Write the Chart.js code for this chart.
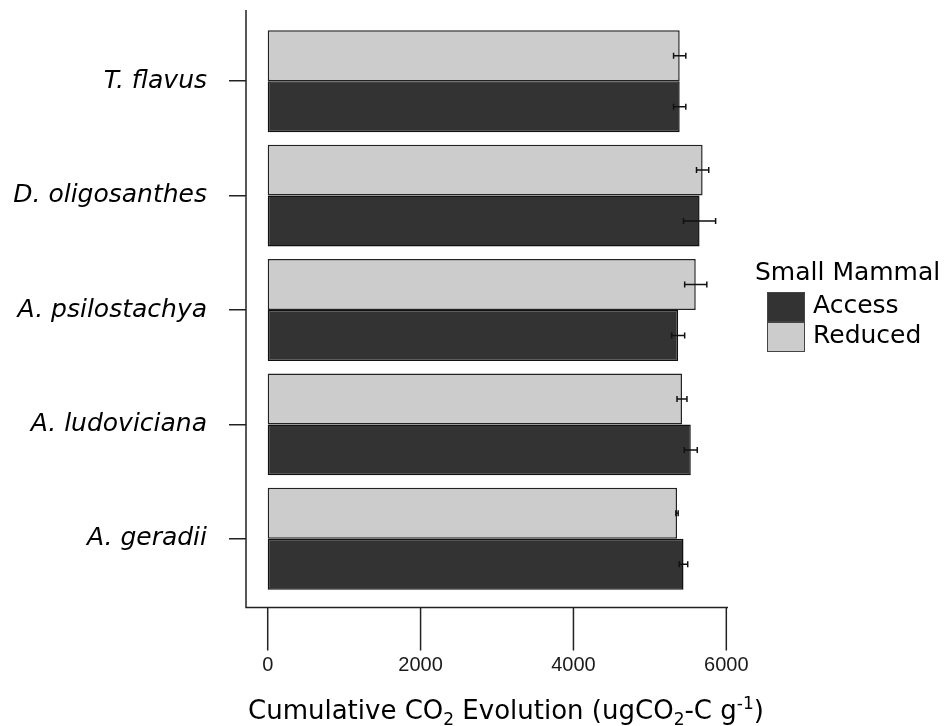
<!DOCTYPE html>
<html>
<head>
<meta charset="utf-8">
<script src="https://cdn.jsdelivr.net/npm/chart.js@4.4.1/dist/chart.umd.min.js"></script>
<style>
  body { margin: 0; background: #fff; }
  #wrap { position: relative; width: 948px; height: 726px; overflow: hidden; }
  #legend { position: absolute; left: 755px; top: 256px; font-family: "DejaVu Sans", Verdana, sans-serif; font-size: 25px; color: #000; }
  #legend .title { line-height: 32px; margin-bottom: 4px; }
  #legend .item { position: relative; height: 30px; margin-left: 12px; }
  #legend .box { position: absolute; left: 0; top: 0; width: 36px; height: 28px; border: 1.5px solid #444; }
  #legend .lbl { position: absolute; left: 46px; top: -2px; line-height: 30px; }
  #xtitle { position: absolute; left: 248px; top: 694px; font-family: "DejaVu Sans", Verdana, sans-serif; font-size: 26px; line-height: 32px; color: #000; white-space: nowrap; }
  #xtitle sub, #xtitle sup { font-size: 17px; line-height: 0; }
</style>
</head>
<body>
<div id="wrap">
  <canvas id="chart" width="948" height="726"></canvas>
  <div id="legend"></div>
  <div id="xtitle">Cumulative CO<sub>2</sub> Evolution (ugCO<sub>2</sub>-C g<sup>-1</sup>)</div>
</div>
<script>
// Cumulative CO2 evolution by plant species and small mammal treatment

const species = ['T. flavus', 'D. oligosanthes', 'A. psilostachya', 'A. ludoviciana', 'A. geradii'];
const reducedValues = [5390, 5690, 5600, 5420, 5355];
const reducedErrors = [80, 80, 145, 65, 15];
const accessValues = [5390, 5650, 5370, 5535, 5440];
const accessErrors = [80, 210, 85, 85, 55];
const xTickValues = [0, 2000, 4000, 6000];

const accessColor = '#333333';
const reducedColor = '#cccccc';
const lineColor = '#222222';

// error bars drawn at each bar's centre through the x scale
const errorBars = {
    id: 'errorBars',
    afterDatasetsDraw(chart) {
        const ctx = chart.ctx;
        const xs = chart.scales.x;
        ctx.save();
        ctx.strokeStyle = '#111';
        ctx.lineWidth = 1.5;
        chart.data.datasets.forEach((ds, di) => {
            const meta = chart.getDatasetMeta(di);
            meta.data.forEach((bar, i) => {
                const v = ds.data[i];
                const e = ds.errors[i];
                const x0 = xs.getPixelForValue(v - e);
                const x1 = xs.getPixelForValue(v + e);
                const y = bar.y;
                ctx.beginPath();
                ctx.moveTo(x0, y);
                ctx.lineTo(x1, y);
                ctx.moveTo(x0, y - 3);
                ctx.lineTo(x0, y + 3);
                ctx.moveTo(x1, y - 3);
                ctx.lineTo(x1, y + 3);
                ctx.stroke();
            });
        });
        ctx.restore();
    }
};

// axis lines sit a little outside the plotting area, like the original
const axisLines = {
    id: 'axisLines',
    afterDraw(chart) {
        const ctx = chart.ctx;
        const area = chart.chartArea;
        const xs = chart.scales.x;
        const axisY = area.bottom + 11.5;
        ctx.save();
        ctx.strokeStyle = lineColor;
        ctx.lineWidth = 1.5;
        ctx.beginPath();
        ctx.moveTo(area.left, area.top - 14);
        ctx.lineTo(area.left, axisY);
        ctx.lineTo(area.right, axisY);
        xTickValues.forEach(v => {
            const px = xs.getPixelForValue(v);
            ctx.moveTo(px, axisY);
            ctx.lineTo(px, axisY + 43);
        });
        ctx.stroke();
        ctx.restore();
    }
};

const chart = new Chart(document.getElementById('chart'), {
    type: 'bar',
    data: {
        labels: species,
        datasets: [{
            label: 'Reduced',
            data: reducedValues,
            errors: reducedErrors,
            backgroundColor: reducedColor,
            borderColor: lineColor,
            borderWidth: 1.5,
            borderSkipped: false
        }, {
            label: 'Access',
            data: accessValues,
            errors: accessErrors,
            backgroundColor: accessColor,
            borderColor: '#111',
            borderWidth: 1.5,
            borderSkipped: false
        }]
    },
    options: {
        indexAxis: 'y',
        responsive: false,
        devicePixelRatio: 1,
        animation: false,
        layout: { padding: { top: 24, right: 220, left: 0, bottom: 0 } },
        datasets: { bar: { categoryPercentage: 0.891, barPercentage: 1 } },
        plugins: {
            legend: { display: false },
            tooltip: { enabled: false }
        },
        scales: {
            x: {
                min: -284,
                max: 6022,
                afterBuildTicks: (scale) => {
                    scale.ticks = xTickValues.map(v => ({ value: v }));
                },
                afterFit: (scale) => {
                    scale.height = 130;
                    scale.paddingLeft = 0;
                    scale.paddingRight = 0;
                },
                grid: { display: false, drawTicks: false },
                border: { display: false },
                ticks: {
                    padding: 57,
                    color: '#1a1a1a',
                    font: { family: '"Liberation Sans", Arial, sans-serif', size: 20 },
                    callback: (value) => String(value)
                }
            },
            y: {
                afterFit: (scale) => {
                    scale.width = 246;
                    scale.paddingTop = 0;
                    scale.paddingBottom = 0;
                },
                grid: {
                    offset: false,
                    drawOnChartArea: false,
                    drawTicks: true,
                    tickLength: 17,
                    color: lineColor,
                    lineWidth: 1.5
                },
                border: { display: false },
                ticks: {
                    padding: 22,
                    color: '#000',
                    font: { family: '"DejaVu Sans", Verdana, sans-serif', size: 25, style: 'italic' }
                }
            }
        }
    },
    plugins: [errorBars, axisLines]
});

// legend: Access first, then Reduced
const legendEl = document.getElementById('legend');
const legendItems = [
    { name: 'Access', color: accessColor },
    { name: 'Reduced', color: reducedColor }
];
let html = '<div class="title">Small Mammal</div>';
legendItems.forEach(item => {
    html += '<div class="item"><div class="box" style="background:' + item.color + '"></div>' +
        '<div class="lbl">' + item.name + '</div></div>';
});
legendEl.innerHTML = html;
</script>
</body>
</html>
